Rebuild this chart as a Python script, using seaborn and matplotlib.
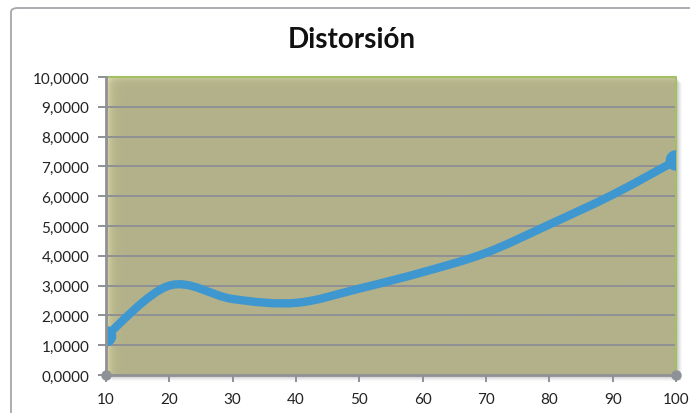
import numpy as np
import pandas as pd
import matplotlib
matplotlib.use("Agg")
import matplotlib.pyplot as plt
import seaborn as sns
from matplotlib.path import Path
from matplotlib.patches import PathPatch, Rectangle, FancyBboxPatch

# Series: distortion measured at each step
x_vals = [10, 20, 30, 40, 50, 60, 70, 80, 90, 100]
y_vals = [1.30, 3.00, 2.55, 2.42, 2.90, 3.45, 4.10, 5.05, 6.05, 7.20]
y_ticks = [0, 1, 2, 3, 4, 5, 6, 7, 8, 9, 10]
x_ticks = [10, 20, 30, 40, 50, 60, 70, 80, 90, 100]
title = "Distorsión"

df = pd.DataFrame({"x": x_vals, "y": y_vals})

sns.set_theme(style="white")
plt.rcParams["font.family"] = ["Lato", "DejaVu Sans"]

W, H = 690, 414
fig = plt.figure(figsize=(W / 100, H / 100), dpi=100)
fig.patch.set_facecolor("white")

# plot area in pixels
L, R, T, B = 106, 676, 78, 376
ax = fig.add_axes([L / W, 1 - B / H, (R - L) / W, (B - T) / H])
ax.set_zorder(2)
ax.patch.set_alpha(0)

# outer chart frame (extends beyond the canvas on right and bottom)
frame = FancyBboxPatch((11 / W, -0.2), 1.2, 1 - 9 / H + 0.2,
                       boxstyle="round,pad=0,rounding_size=0.01",
                       transform=fig.transFigure, facecolor="none",
                       edgecolor="#A3A6AA", linewidth=1.3, zorder=-2)
fig.patches.append(frame)

# soft drop shadow behind plot area
for i, a in enumerate([0.12, 0.10, 0.08, 0.07, 0.05, 0.04]):
    off = i + 1
    sh = Rectangle(((L + off) / W, 1 - (B + off) / H), (R - L) / W, (B - T) / H,
                   transform=fig.transFigure, facecolor="#5a5a5a",
                   edgecolor="none", alpha=a, zorder=-1)
    fig.patches.append(sh)

ax.set_xlim(10, 100)
ax.set_ylim(0, 10)

# plot-area fill with light bevel on the left and top edges
nx, ny = 400, 300
gx = np.linspace(0, 1, nx)
gy = np.linspace(0, 1, ny)
base = np.array([179, 177, 137]) / 255
light = np.array([222, 220, 170]) / 255
fx = np.exp(-gx * (R - L) / 4.0)
fy = np.exp(-(1 - gy) * (B - T) / 3.0)
f = np.clip(fx[None, :] + 0.6 * fy[:, None], 0, 1)
img = base[None, None, :] * (1 - f[..., None]) + light[None, None, :] * f[..., None]
ax.imshow(img, extent=[10, 100, 0, 10], origin="lower", aspect="auto",
          zorder=0, interpolation="bilinear")

# gridlines
for v in y_ticks[1:]:
    ax.axhline(v, color="#8E9196", lw=1.4, zorder=1)

# smoothed line (cubic Bezier through the data points)
px = np.array(x_vals, dtype=float)
py = np.array(y_vals, dtype=float)
n = len(px)
verts = [(px[0], py[0])]
codes = [Path.MOVETO]
for i in range(n - 1):
    p0 = np.array([px[max(i - 1, 0)], py[max(i - 1, 0)]])
    p1 = np.array([px[i], py[i]])
    p2 = np.array([px[i + 1], py[i + 1]])
    p3 = np.array([px[min(i + 2, n - 1)], py[min(i + 2, n - 1)]])
    c1 = p1 + (p2 - p0) / 6.0
    c2 = p2 - (p3 - p1) / 6.0
    verts += [tuple(c1), tuple(c2), tuple(p2)]
    codes += [Path.CURVE4] * 3
curve = PathPatch(Path(verts, codes), facecolor="none", edgecolor="#3F97D0",
                  lw=6, capstyle="round", joinstyle="round", zorder=3)
ax.add_patch(curve)

# endpoint markers
ends = df.iloc[[0, -1]]
sns.scatterplot(data=ends, x="x", y="y", ax=ax, s=220, color="#3F97D0",
                edgecolor="none", zorder=4, legend=False)

# green outline at top and right of the plot area
ax.plot([10, 100, 100], [10, 10, 0], color="#A4C065", lw=1.5, zorder=2,
        clip_on=False)

for s in ["top", "right"]:
    ax.spines[s].set_visible(False)
for s in ["left", "bottom"]:
    ax.spines[s].set_color("#8E9196")
    ax.spines[s].set_linewidth(2)
    ax.spines[s].set_zorder(5)

# axis end dots
ax.plot([10, 100], [0, 0], "o", color="#8E9196", ms=7.5, clip_on=False,
        zorder=6, mec="none")

ax.set_yticks(y_ticks)
ax.set_yticklabels([f"{v:.4f}".replace(".", ",") for v in y_ticks])
ax.set_xticks(x_ticks)
ax.set_xticklabels([str(v) for v in x_ticks])
ax.tick_params(axis="y", direction="out", length=6, width=1.4,
               color="#8E9196", labelsize=11, labelcolor="#222222", pad=6, left=True)
ax.tick_params(axis="x", direction="out", length=5, width=1.4,
               color="#8E9196", labelsize=11, labelcolor="#222222", pad=7, bottom=True)
ax.set_xlabel("")
ax.set_ylabel("")
ax.grid(False)

fig.text(352 / W, 1 - 40 / H, title, ha="center", va="center",
         fontsize=20, fontweight="bold", color="#111111")

fig.savefig("out.png", dpi=100, facecolor="white")
